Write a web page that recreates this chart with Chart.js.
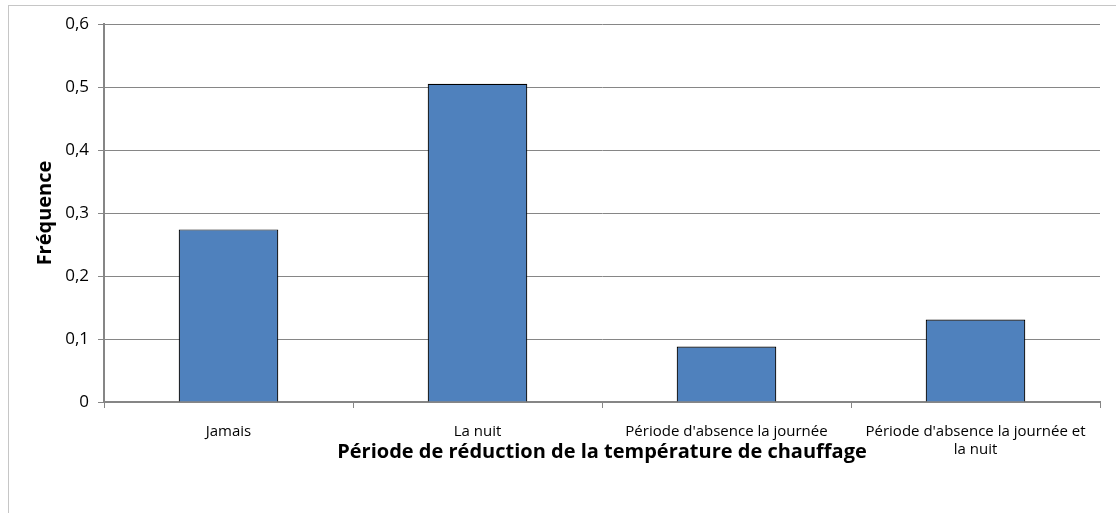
<!DOCTYPE html>
<html>
<head>
<meta charset="utf-8">
<script src="https://cdn.jsdelivr.net/npm/chart.js@4"></script>
<style>
  html, body { margin: 0; padding: 0; background: #fff; }
  #wrap { width: 1116px; height: 513px; }
</style>
</head>
<body>
<div id="wrap"><canvas id="freqChart" width="1116" height="513"></canvas></div>
<script>
// Données
const categories = [
    "Jamais",
    "La nuit",
    "Période d'absence la journée",
    ["Période d'absence la journée et", "la nuit"]
];
const frequences = [0.274, 0.505, 0.088, 0.131];
const yTickLabels = ["0", "0,1", "0,2", "0,3", "0,4", "0,5", "0,6"];

const grisAxe = "#868686";
const police = "'Open Sans', 'DejaVu Sans', sans-serif";

// cadre extérieur (comme dans Excel)
const cadrePlugin = {
    id: "cadre",
    beforeDraw(chart) {
        const ctx = chart.ctx;
        ctx.save();
        ctx.strokeStyle = "#c6c6c6";
        ctx.lineWidth = 1;
        ctx.strokeRect(8.5, 5.5, 1200, 600);
        ctx.restore();
    }
};

const ctx = document.getElementById("freqChart").getContext("2d");
new Chart(ctx, {
    type: "bar",
    data: {
        labels: categories,
        datasets: [{
            label: "Fréquence",
            data: frequences,
            backgroundColor: "#4F81BD",
            borderColor: "#000",
            borderWidth: 1.2,
            barPercentage: 0.4,
            categoryPercentage: 1.0
        }]
    },
    options: {
        responsive: false,
        animation: false,
        layout: { padding: { top: 24, right: 16, bottom: 0, left: 0 } },
        plugins: {
            legend: { display: false },
            tooltip: { enabled: false }
        },
        scales: {
            x: {
                grid: { drawOnChartArea: false, offset: true, tickLength: 6, color: grisAxe },
                border: { color: grisAxe, width: 2 },
                ticks: {
                    color: "#000",
                    font: { family: police, size: 15, lineHeight: 1.25 },
                    padding: 14,
                    maxRotation: 0,
                    autoSkip: false
                },
                title: {
                    display: true,
                    text: "Période de réduction de la température de chauffage",
                    color: "#000",
                    font: { family: police, size: 20, weight: "bold" },
                    padding: { top: 0, bottom: 49 }
                },
                afterFit(scale) { scale.height = 111; }
            },
            y: {
                min: 0,
                max: 0.6,
                ticks: {
                    stepSize: 0.1,
                    color: "#000",
                    font: { family: police, size: 17 },
                    padding: 9,
                    callback: (v, i) => yTickLabels[i]
                },
                grid: { color: grisAxe, tickLength: 6, lineWidth: 1 },
                border: { color: grisAxe, width: 2 },
                title: {
                    display: true,
                    text: "Fréquence",
                    color: "#000",
                    font: { family: police, size: 20, weight: "bold" },
                    padding: { top: 33, bottom: 0 }
                },
                afterFit(scale) { scale.width = 104; }
            }
        }
    },
    plugins: [cadrePlugin]
});
</script>
</body>
</html>
